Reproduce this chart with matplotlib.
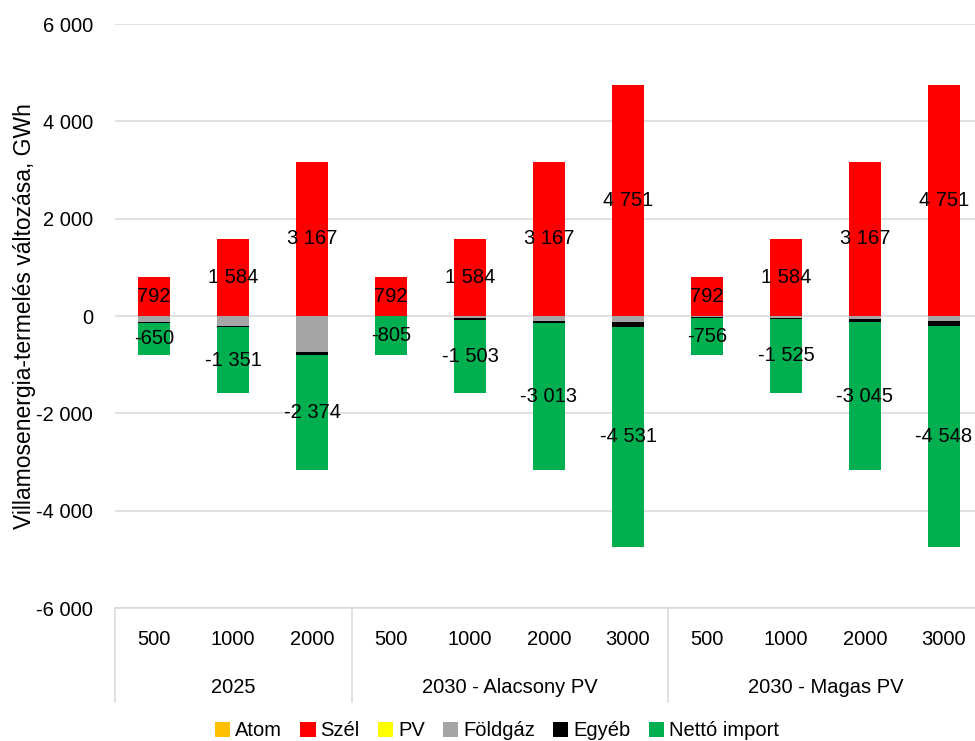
import matplotlib
matplotlib.use("Agg")
import matplotlib.pyplot as plt
import matplotlib.transforms as mtransforms
from matplotlib.patches import Patch
from matplotlib.ticker import FuncFormatter, MultipleLocator
import numpy as np

# data ---------------------------------------------------------------
groups = ["2025", "2030 - Alacsony PV", "2030 - Magas PV"]
group_sizes = [3, 4, 4]
capacities = ["500", "1000", "2000", "500", "1000", "2000", "3000",
              "500", "1000", "2000", "3000"]

atom = [0, 0, 0, 0, 0, 0, 0, 0, 0, 0, 0]
szel = [792, 1584, 3167, 792, 1584, 3167, 4751, 792, 1584, 3167, 4751]
pv = [0, 0, 0, 0, 0, 0, 0, 0, 0, 0, 0]
foldgaz = [-125, -210, -748, 13, -45, -95, -125, -20, -35, -55, -110]
egyeb = [-17, -23, -45, 0, -36, -59, -95, -16, -24, -67, -93]
netto_import = [-650, -1351, -2374, -805, -1503, -3013, -4531,
                -756, -1525, -3045, -4548]

series = [
    ("Atom", atom, "#FFC000"),
    ("Szél", szel, "#FF0000"),
    ("PV", pv, "#FFFF00"),
    ("Földgáz", foldgaz, "#A5A5A5"),
    ("Egyéb", egyeb, "#000000"),
    ("Nettó import", netto_import, "#00B050"),
]
labelled = {"Szél", "Nettó import"}

# style --------------------------------------------------------------
plt.rcParams["font.family"] = ["Liberation Sans", "DejaVu Sans"]
fs = 14.5
grid_color = "#D9D9D9"


def fmt(v, _pos=None):
    return f"{v:,.0f}".replace(",", " ")


fig = plt.figure(figsize=(9.75, 7.41), dpi=100)
ax = fig.add_axes([114.5 / 975, 133 / 741, 869 / 975, 584 / 741])

x = np.arange(len(capacities))
pos_bottom = np.zeros(len(x))
neg_bottom = np.zeros(len(x))
for name, vals, color in series:
    vals = np.asarray(vals, dtype=float)
    bottom = np.where(vals >= 0, pos_bottom, neg_bottom)
    ax.bar(x, vals, width=0.405, bottom=bottom, color=color, zorder=3)
    if name in labelled:
        for xi, b, v in zip(x, bottom, vals):
            ax.text(xi, b + v / 2, fmt(v), ha="center", va="center",
                    fontsize=fs, color="#000000", zorder=4)
    pos_bottom += np.where(vals >= 0, vals, 0)
    neg_bottom += np.where(vals < 0, vals, 0)

ax.set_ylim(-6000, 6000)
ax.set_xlim(-0.5, len(x) - 0.5)
ax.yaxis.set_major_locator(MultipleLocator(2000))
ax.yaxis.set_major_formatter(FuncFormatter(fmt))
ax.grid(axis="y", color=grid_color, linewidth=1.1, zorder=0)
ax.tick_params(axis="y", length=0, pad=15.5, labelsize=fs)
for side in ["top", "right", "left"]:
    ax.spines[side].set_visible(False)
ax.spines["bottom"].set_color(grid_color)
ax.spines["bottom"].set_linewidth(1.1)
ax.set_ylabel("Villamosenergia-termelés változása, GWh", fontsize=16.5)
ax.yaxis.label.set_va("center")
ax.yaxis.set_label_coords(-0.103, 0.5)

# multi-level category axis
ax.set_xticks(x)
ax.set_xticklabels(capacities)
ax.tick_params(axis="x", length=0, pad=16, labelsize=fs)
trans = mtransforms.blended_transform_factory(ax.transData, ax.transAxes)
edges = np.concatenate([[0], np.cumsum(group_sizes)]) - 0.5
for left, right, label in zip(edges[:-1], edges[1:], groups):
    ax.text((left + right) / 2, -0.1353, label, transform=trans,
            ha="center", va="center", fontsize=fs)
for e in edges:
    ax.plot([e, e], [0, -0.161], transform=trans, color=grid_color,
            linewidth=1.1, clip_on=False)

handles = [Patch(facecolor=c, label=n) for n, _, c in series]
fig.legend(handles=handles, loc="center", bbox_to_anchor=(497 / 975, 1 - 731 / 741),
           ncol=6, frameon=False, fontsize=fs, handlelength=0.75, handleheight=0.75,
           handletextpad=0.25, columnspacing=0.9, borderpad=0.1)

fig.savefig("out.png", dpi=100)
